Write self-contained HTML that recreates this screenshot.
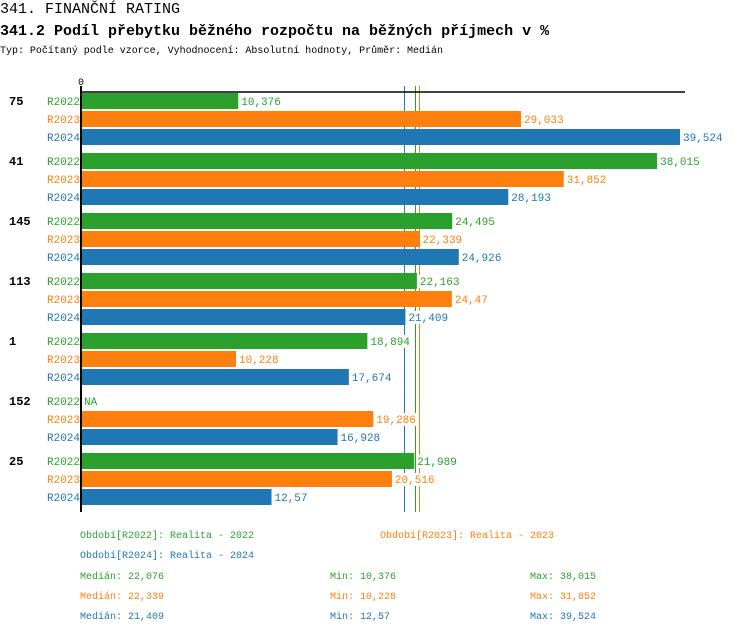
<!DOCTYPE html>
<html><head><meta charset="utf-8"><style>
body{margin:0;background:#fff}
svg{display:block;font-family:"Liberation Mono","DejaVu Sans Mono",monospace}
</style></head><body>
<svg id="c" width="750" height="632">
<text x="0" y="13" font-size="15">341. FINANČNÍ RATING</text>
<text x="0" y="35" font-size="15" font-weight="bold">341.2 Podíl přebytku běžného rozpočtu na běžných příjmech v %</text>
<text x="0" y="53" font-size="10" textLength="443">Typ: Počítaný podle vzorce, Vyhodnocení: Absolutní hodnoty, Průměr: Medián</text>
<g id="lines"></g>
<g id="bars"></g>
<g id="labels"></g>
<g id="legend"></g>
</svg>
<script>
const categories=["75","41","145","113","1","152","25"];
const seriesNames=["R2022","R2023","R2024"];
const r2022=[10.376,38.015,24.495,22.163,18.894,null,21.989];
const r2023=[29.033,31.852,22.339,24.47,10.228,19.286,20.516];
const r2024=[39.524,28.193,24.926,21.409,17.674,16.928,12.57];
const medians=[22.076,22.339,21.409];
const mins=[10.376,10.228,12.57];
const maxs=[38.015,31.852,39.524];
const colors=["#2ca02c","#ff7f0e","#1f77b4"];
const NS="http://www.w3.org/2000/svg";
const x0=81, scale=(680-81)/39.524;
const X=v=>x0+v*scale;
const fmt=v=>String(v).replace('.',',');
const g=document.getElementById('bars');
const gl=document.getElementById('lines');
const gt=document.getElementById('labels');
function el(tag,attrs,parent,text){const e=document.createElementNS(NS,tag);for(const k in attrs)e.setAttribute(k,attrs[k]);if(text!==undefined)e.textContent=text;parent.appendChild(e);return e;}
medians.forEach((m,j)=>{
  const lx=Math.round(X(m))-0.5;
  const l=el('line',{x1:lx,x2:lx,y1:86,y2:512,stroke:colors[j],'stroke-width':1},gl);
  
  
});
const data=[r2022,r2023,r2024];
categories.forEach((c,i)=>{
  const gy=93+i*60;
  const t=el('text',{x:9,y:gy+12,'font-size':12,'font-weight':'bold'},gt,c);
  
  
  data.forEach((s,j)=>{
    const y=gy+j*18;
    const lb=el('text',{x:47,y:y+12,'font-size':11,fill:colors[j]},gt,seriesNames[j]);
    
    
    const v=s[i];
    if(v!==null){
      const r=el('rect',{x:x0,y:y,width:X(v)-x0,height:16,fill:colors[j]},g);
      
      
    }
    const str=v===null?'NA':fmt(v);
    const lx=(v===null?x0:X(v))+2;
    const bg=el('rect',{x:lx,y:y+2,width:str.length*6.6+3,height:13,fill:'#fff'},gt);
    
    
    const vt=el('text',{x:lx+1,y:y+12,'font-size':11,fill:colors[j]},gt,str);
    
    
  });
});
const ax=el('line',{x1:81,x2:685,y1:92,y2:92,stroke:'#000','stroke-width':1.5},gt);


const ay=el('line',{x1:81,x2:81,y1:86,y2:512,stroke:'#000','stroke-width':2},gt);


const zt=el('text',{x:78,y:85,'font-size':10},gt,'0');


const lg=document.getElementById('legend');
const legTexts=[["Období[R2022]: Realita - 2022",80,538],["Období[R2023]: Realita - 2023",380,538],["Období[R2024]: Realita - 2024",80,558]];
legTexts.forEach((t,j)=>{
  const e=el('text',{x:t[1],y:t[2],'font-size':10,fill:colors[j],textLength:174},lg,t[0]);
  
  
});
[0,1,2].forEach(j=>{
  const y=579+j*20;
  const a=el('text',{x:80,y:y,'font-size':10,fill:colors[j]},lg,'Medián: '+fmt(medians[j]));
  
  
  const b=el('text',{x:330,y:y,'font-size':10,fill:colors[j]},lg,'Min: '+fmt(mins[j]));
  
  
  const c=el('text',{x:530,y:y,'font-size':10,fill:colors[j]},lg,'Max: '+fmt(maxs[j]));
  
  
});
</script>
</body></html>
